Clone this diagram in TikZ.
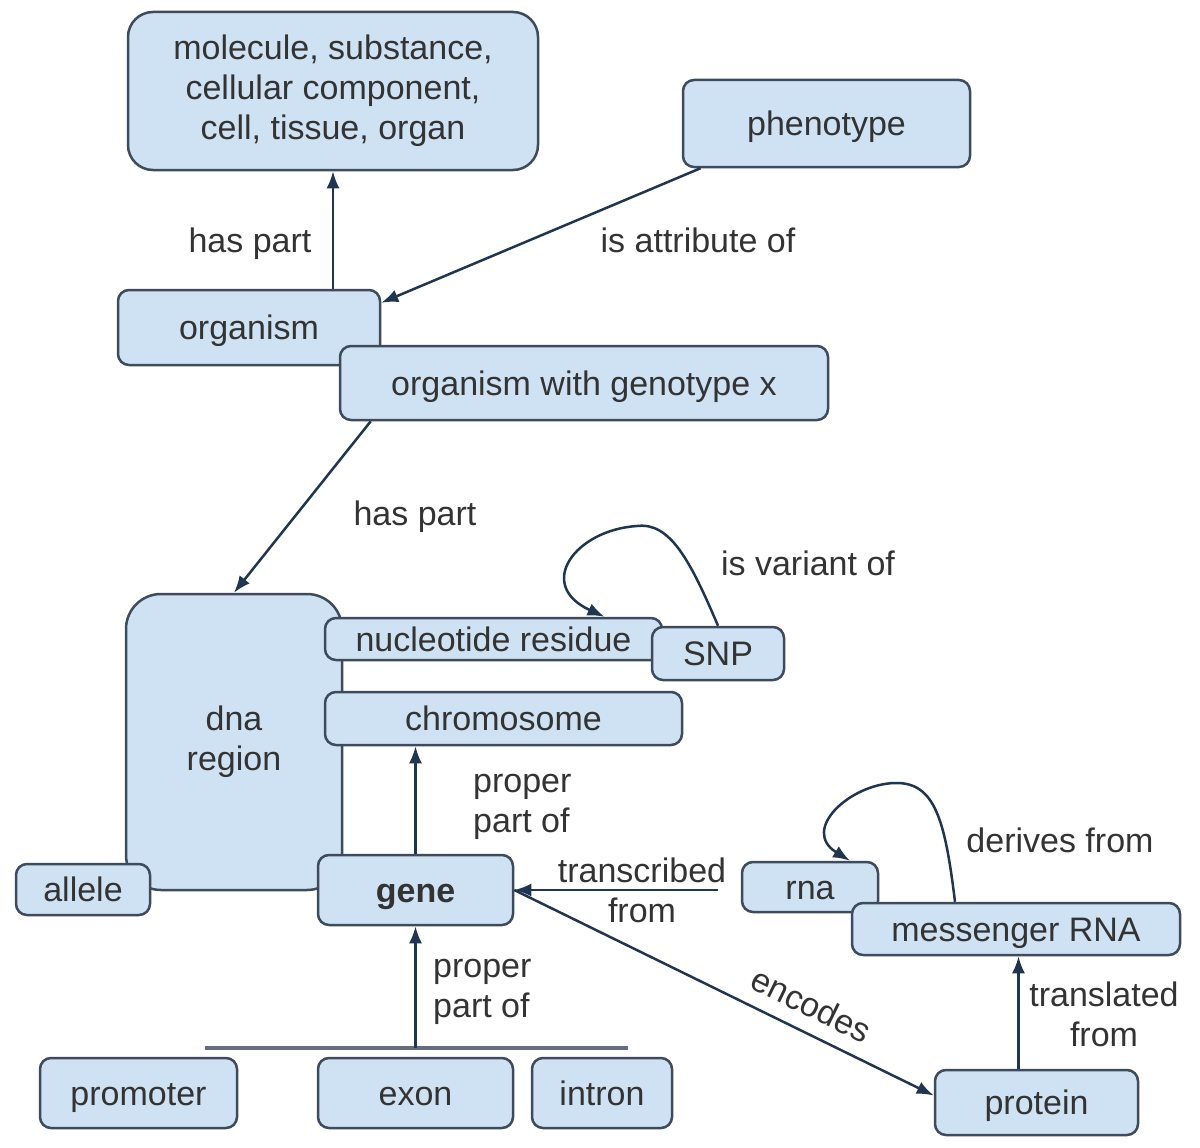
\documentclass[tikz,border=0pt]{standalone}
\usepackage{fontspec}
\setmainfont{Liberation Sans}
\usetikzlibrary{arrows.meta}
\definecolor{boxfill}{HTML}{CFE2F3}
\definecolor{boxline}{HTML}{3D4B5C}
\definecolor{arrline}{HTML}{1F3550}
\definecolor{txt}{HTML}{333333}
\tikzset{
  term/.style={draw=boxline, fill=boxfill, line width=2.5pt, rounded corners=11pt,
    text=txt, font=\fontsize{34}{40}\selectfont, inner sep=0pt, align=center},
  rel/.style={text=txt, font=\fontsize{34}{40}\selectfont, align=center, inner sep=0pt},
  oneline/.style={text height=29pt, text depth=5pt},
  isa/.style={draw=arrline, line width=2.5pt, -{Latex[length=17pt,width=13pt]}},
}
\begin{document}
\begin{tikzpicture}[x=1pt,y=-1pt]
    \useasboundingbox (0,0) rectangle (1200,1148);
    % top level
    \node[term, minimum width=410pt, minimum height=158pt, rounded corners=25pt] (parts) at (333,91) {molecule, substance,\\cellular component,\\cell, tissue, organ};
    \node[term, oneline, minimum width=287pt, minimum height=87pt] (pheno) at (826.5,123.5) {phenotype};
    \node[term, oneline, minimum width=262pt, minimum height=75pt] (org) at (249,327.5) {organism};
    \node[term, oneline, minimum width=488pt, minimum height=74pt] (orgx) at (584,383) {organism with genotype x};
    \draw[isa] (parts.south |- org.north) -- (parts.south);
    \node[rel, oneline] (haspart1) at (250,240) {has part};
    \draw[isa] ([xshift=-126pt]pheno.south) -- ([yshift=-14pt]org.north east);
    \node[rel, oneline] (attr) at (698,240) {is attribute of};

    % dna region and its parts
    \node[term, minimum width=216pt, minimum height=296pt, rounded corners=35pt] (dna) at (234,742) {dna\\region};
    \node[term, oneline, minimum width=337pt, minimum height=42pt] (nuc) at (493.5,639) {nucleotide residue};
    \node[term, oneline, minimum width=132pt, minimum height=53pt] (snp) at (718,653.5) {SNP};
    \node[term, oneline, minimum width=357pt, minimum height=53pt] (chrom) at (503.5,718.5) {chromosome};
    \node[term, oneline, minimum width=134pt, minimum height=51pt] (allele) at (83,889.5) {allele};
    \node[term, oneline, minimum width=195pt, minimum height=70pt, font=\fontsize{34}{40}\selectfont\bfseries] (gene) at (415.5,890) {gene};
    \draw[isa] ([xshift=32pt]orgx.south west) -- (dna.north);
    \node[rel, oneline] (haspart2) at (415,513) {has part};
    \draw[isa] (snp.north) .. controls (690,560) and (670,522) .. (637,526) .. controls (575,530) and (535,585) .. ([xshift=111pt]nuc.north);
    \node[rel, oneline] (variant) at (808,563) {is variant of};
    \draw[isa] (gene.north) -- (gene.north |- chrom.south);
    \node[rel, anchor=west, align=left] (ppart1) at (473,807) {proper\\part of};

    % gene parts
    \node[term, oneline, minimum width=197pt, minimum height=70pt] (promoter) at (138.5,1093) {promoter};
    \node[term, oneline, minimum width=195pt, minimum height=70pt] (exon) at (415.5,1093) {exon};
    \node[term, oneline, minimum width=140pt, minimum height=70pt] (intron) at (602,1093) {intron};
    \coordinate (barl) at (205,1048);
    \coordinate (barr) at (628,1048);
    \coordinate (bar) at (415.5,1048);
    \draw[draw=boxline!80, line width=4pt] (barl) -- (barr);
    \draw[isa] (bar) -- (gene.south);
    \node[rel, anchor=west, align=left] (ppart2) at (433,992) {proper\\part of};

    % rna side
    \node[term, oneline, minimum width=136pt, minimum height=50pt] (rna) at (810,887) {rna};
    \node[term, oneline, minimum width=328pt, minimum height=52pt] (mrna) at (1016,929) {messenger RNA};
    \node[term, oneline, minimum width=203pt, minimum height=65pt] (protein) at (1036.5,1102.5) {protein};
    \coordinate (trs) at (718,890);
    \draw[isa] (trs) -- (trs -| gene.east);
    \node[rel] (transcr) at (642,890) {transcribed\\from};
    \draw[isa] (gene.east) -- ([yshift=7pt]protein.west) node[rel, pos=0.68, sloped, above=14pt] {encodes};
    \draw[isa] ([xshift=-61pt]mrna.north) .. controls (945,820) and (935,782) .. (895,783) .. controls (850,784) and (800,830) .. ([xshift=40pt]rna.north);
    \node[rel, oneline] (derives) at (1060,840) {derives from};
    \draw[isa] ([xshift=-18pt]protein.north) -- ([xshift=-18pt]protein.north |- mrna.south);
    \node[rel] (transl) at (1104,1014) {translated\\from};
\end{tikzpicture}
\end{document}
